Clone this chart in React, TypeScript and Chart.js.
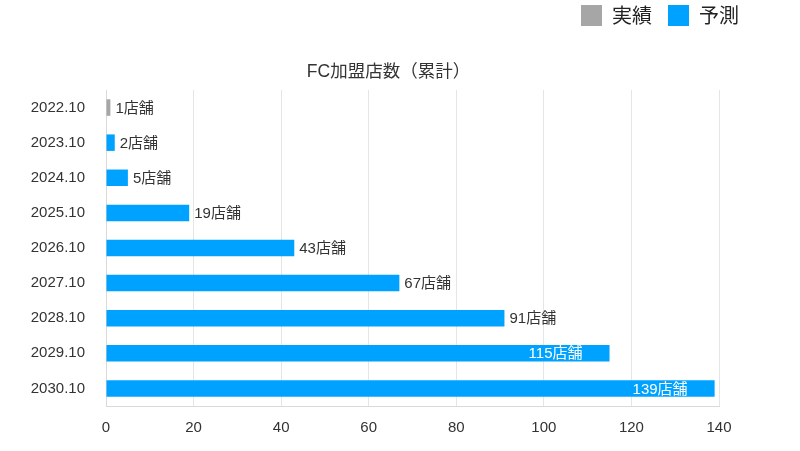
import React, { useEffect, useRef } from "react";
import { Chart, registerables } from "chart.js";
Chart.register(...registerables);

const categories = ["2022.10", "2023.10", "2024.10", "2025.10", "2026.10", "2027.10", "2028.10", "2029.10", "2030.10"];
const actualValues = [1, null, null, null, null, null, null, null, null];
const forecastValues = [null, 2, 5, 19, 43, 67, 91, 115, 139];
const xTicks = [0, 20, 40, 60, 80, 100, 120, 140];
const FONT = "'Liberation Sans', Arial, 'Noto Sans CJK JP', sans-serif";

const labelPlugin = {
  id: "barLabels",
  afterDatasetsDraw(chart: any) {
    const ctx = chart.ctx;
    ctx.save();
    ctx.font = `15px ${FONT}`;
    ctx.textBaseline = "middle";
    chart.data.datasets.forEach((ds: any, di: number) => {
      const meta = chart.getDatasetMeta(di);
      meta.data.forEach((bar: any, i: number) => {
        const v = ds.data[i];
        if (v == null) return;
        const text = `${v}店舗`;
        if (v >= 100) {
          ctx.fillStyle = "#ffffff";
          ctx.textAlign = "right";
          ctx.fillText(text, bar.x - 27, bar.y + 1);
        } else {
          ctx.fillStyle = "#333333";
          ctx.textAlign = "left";
          ctx.fillText(text, bar.x + 5, bar.y + 1);
        }
      });
    });
    ctx.restore();
  },
};

export default function App() {
  const ref = useRef<HTMLCanvasElement>(null);
  useEffect(() => {
    const chart = new Chart(ref.current!, {
      type: "bar",
      data: {
        labels: categories,
        datasets: [
          { label: "実績", data: actualValues as any, backgroundColor: "#a6a6a6", barPercentage: 0.47, categoryPercentage: 1 },
          { label: "予測", data: forecastValues as any, backgroundColor: "#00a2ff", barPercentage: 0.47, categoryPercentage: 1 },
        ],
      },
      options: {
        indexAxis: "y",
        animation: false,
        responsive: false,
        maintainAspectRatio: false,
        layout: { padding: { left: 22, right: 45, top: -11, bottom: 1 } },
        plugins: {
          legend: {
            position: "top",
            align: "end",
            weight: 3000,
            labels: { font: { family: "'Noto Sans CJK JP', sans-serif", size: 20 }, color: "#222", boxWidth: 21, boxHeight: 21, padding: 16 },
          } as any,
          title: {
            display: true,
            text: "FC加盟店数（累計）",
            font: { family: FONT, size: 17.5, weight: "normal" },
            color: "#333",
            padding: { top: 26, bottom: 7 },
          },
          tooltip: { enabled: false },
        },
        scales: {
          x: {
            min: 0,
            max: 140,
            afterBuildTicks: (s: any) => { s.ticks = xTicks.map((v) => ({ value: v })); },
            ticks: { font: { family: FONT, size: 15 }, color: "#333", padding: 13 },
            grid: { color: "#e5e5e5", drawTicks: false },
            border: { color: "#d9d9d9" },
          },
          y: {
            stacked: true,
            ticks: { font: { family: FONT, size: 15 }, color: "#333", padding: 13 },
            grid: { display: false },
            border: { color: "#d9d9d9" },
            afterFit: (s: any) => { s.width = 84; },
          },
          yRight: {
            type: "category",
            position: "right",
            display: true,
            ticks: { display: false },
            grid: { display: false },
            border: { display: false },
            afterFit: (s: any) => { s.width = 36; },
          },
        },
      },
      plugins: [labelPlugin],
    });
    return () => chart.destroy();
  }, []);
  return (
    <div style={{ position: "absolute", left: 0, top: 0, width: 800, height: 451 }}>
      <canvas ref={ref} width={800} height={451} style={{ display: "block" }} />
    </div>
  );
}
